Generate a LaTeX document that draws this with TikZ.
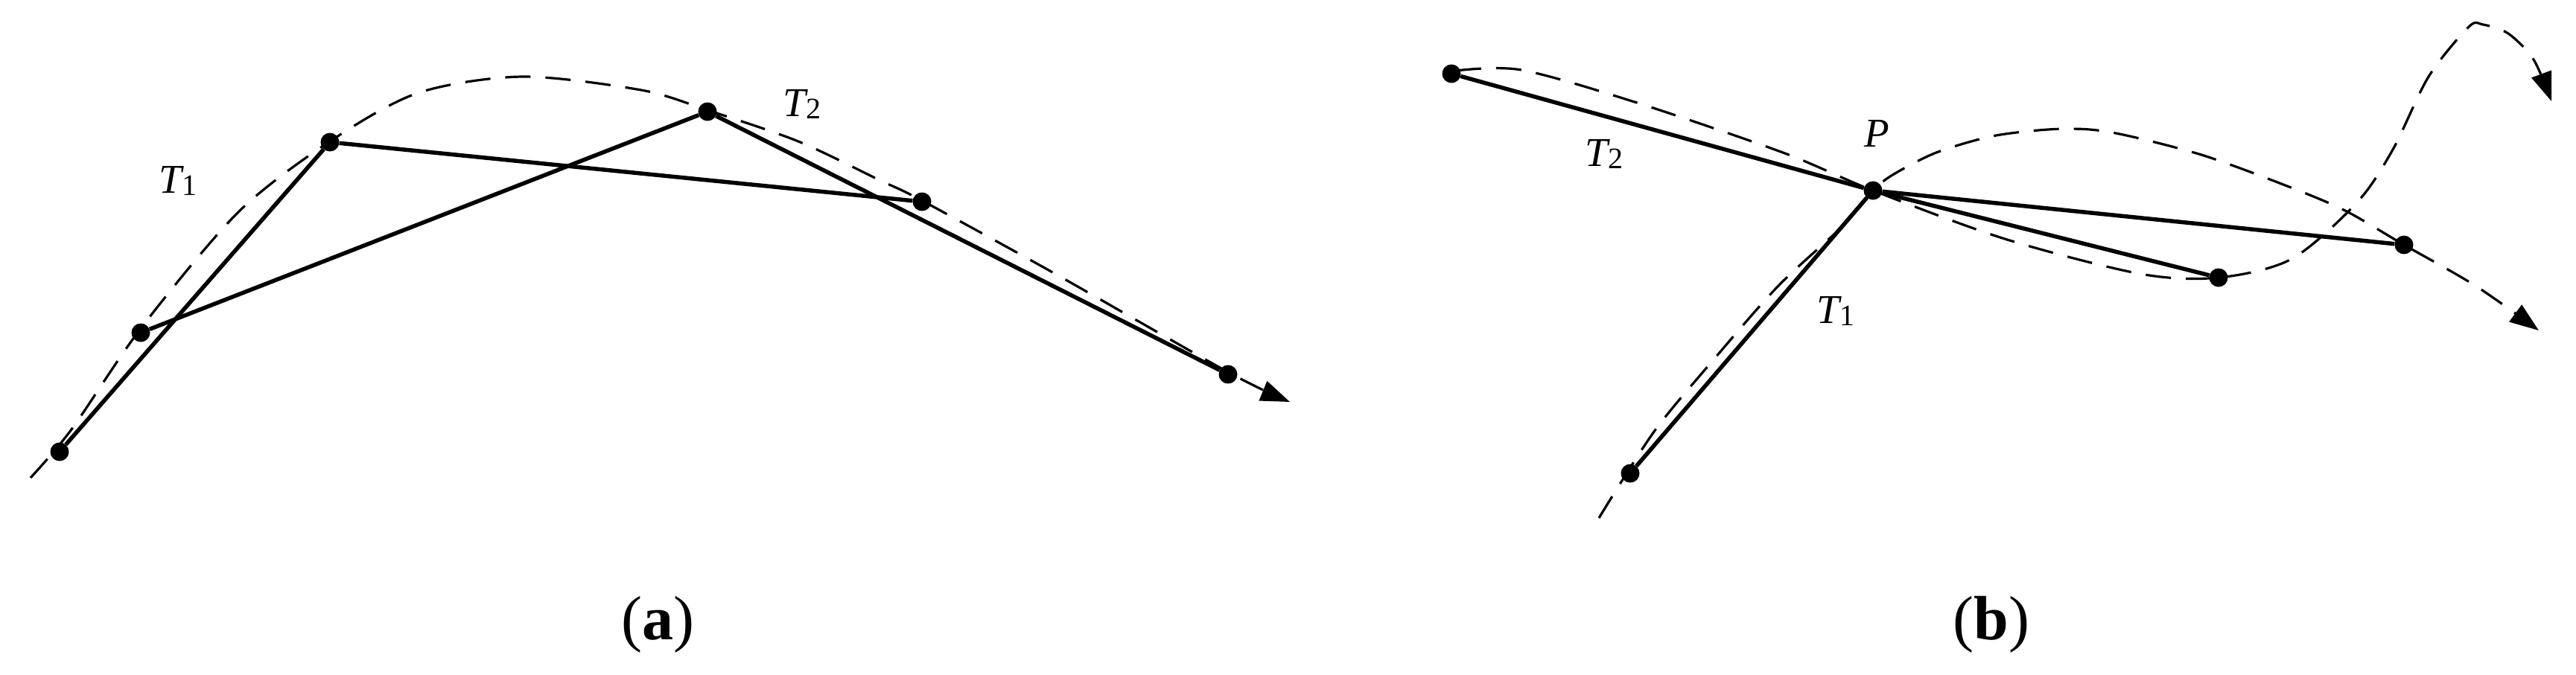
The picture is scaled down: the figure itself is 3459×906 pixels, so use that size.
\documentclass[tikz,border=0pt]{standalone}
\usepackage{fontspec}
\setmainfont{Liberation Serif}
\usetikzlibrary{arrows.meta}
\newcommand{\tsub}[2]{{\fontsize{55}{60}\selectfont\itshape #1\raisebox{-3pt}{\fontsize{40}{44}\selectfont\upshape #2}}}
\begin{document}
\begin{tikzpicture}[x=1pt,y=-1pt,
  dotnode/.style={circle,fill=black,inner sep=0pt,minimum size=25pt},
  segline/.style={line width=5.5pt},
  curveline/.style={line width=3.2pt,dash pattern=on 34pt off 20pt},
  arrowtip/.style={-{Triangle[length=39pt,width=28pt]}},
  labnode/.style={inner sep=0pt},
  captext/.style={inner sep=0pt,font=\fontsize{84}{90}\selectfont}]
\useasboundingbox (0,0) rectangle (3459,906);
% ---------- panel (a) ----------
\node[dotnode] (a1) at (80,607) {};
\node[dotnode] (a2) at (189,447) {};
\node[dotnode] (a3) at (443,191) {};
\node[dotnode] (a4) at (950,150) {};
\node[dotnode] (a5) at (1238,271) {};
\node[dotnode] (a6) at (1649,503) {};
\draw[curveline,arrowtip] plot[smooth] coordinates {(41,642) (96,577) (190,440) (320,285) (443,190) (561,125) (701,103) (861,121) (950,148) (1072,190) (1181,242) (1237,269) (1417,368) (1649,500) (1732,540)};
\draw[segline] (a1) -- (a3);
\draw[segline] (a2) -- (a4);
\draw[segline] (a3) -- (a5);
\draw[segline] (a4) -- (a6);
\node[labnode] (t1a) at (239,243) {\tsub{T}{1}};
\node[labnode] (t2a) at (1077,140) {\tsub{T}{2}};
\node[captext] (capa) at (883,839) {(\textbf{a})};
% ---------- panel (b) ----------
\node[dotnode] (b1) at (1949,99) {};
\node[dotnode] (p) at (2515,256) {};
\node[dotnode] (b2) at (2189,636) {};
\node[dotnode] (b3) at (2979,373) {};
\node[dotnode] (b4) at (3228,329) {};
\draw[curveline,arrowtip] plot[smooth] coordinates {(1955,95) (2043,94) (2198,138) (2394,205) (2515,256) (2692,321) (2874,368) (2979,373) (3077,348) (3165,272) (3213,201) (3261,103) (3315,36) (3334,33) (3368,45) (3402,80) (3426,136)};
\draw[curveline,arrowtip] plot[smooth] coordinates {(2147,696) (2221,580) (2302,482) (2388,384) (2474,304) (2515,256) (2543,234) (2600,205) (2675,183) (2750,174) (2806,174) (2860,183) (2956,208) (3053,243) (3145,281) (3228,329) (3324,384) (3409,444)};
\draw[segline] (b1) -- (p);
\draw[segline] (b2) -- (p);
\draw[segline] (p) -- (b3);
\draw[segline] (p) -- (b4);
\node[labnode] (pl) at (2520,179) {\fontsize{55}{60}\selectfont\itshape P};
\node[labnode] (t2b) at (2154,207) {\tsub{T}{2}};
\node[labnode] (t1b) at (2465,418) {\tsub{T}{1}};
\node[captext] (capb) at (2674,839) {(\textbf{b})};
\end{tikzpicture}
\end{document}
